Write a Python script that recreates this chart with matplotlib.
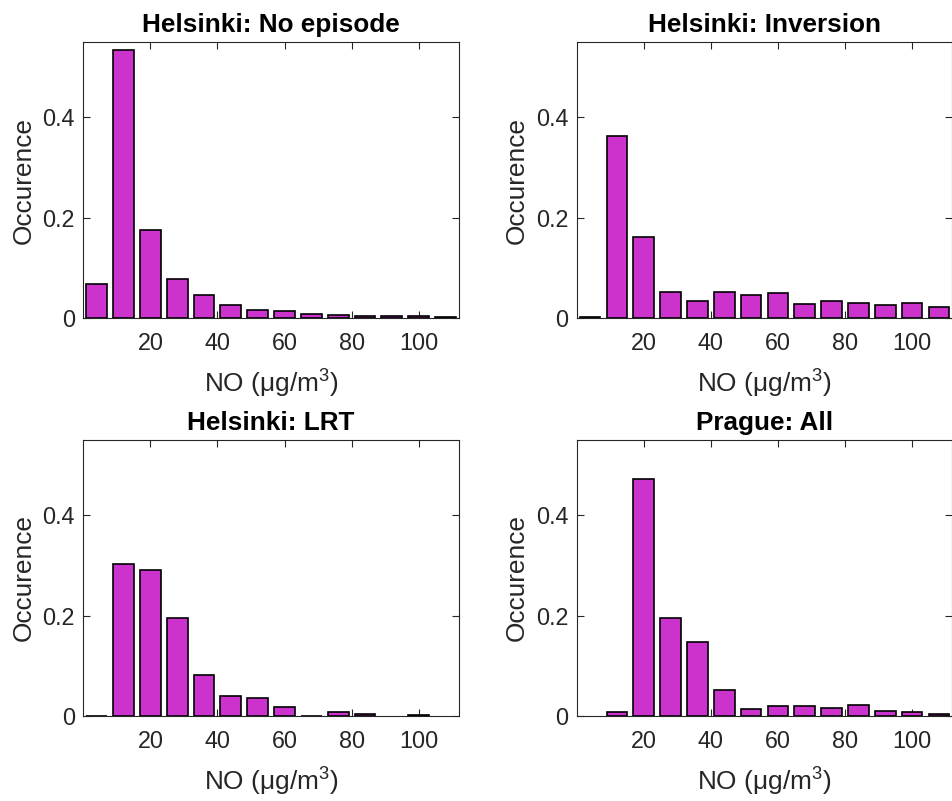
import numpy as np
import matplotlib.pyplot as plt

plt.rcParams['font.family'] = ['Liberation Sans', 'DejaVu Sans']
plt.rcParams['mathtext.fontset'] = 'custom'
plt.rcParams['mathtext.rm'] = 'Liberation Sans'

# NO concentration bins (ug/m3), width 8, centred at 4, 12, ..., 108
bin_centres = np.arange(4, 112, 8)

no_episode = [0.068, 0.535, 0.175, 0.079, 0.047, 0.026, 0.017,
              0.015, 0.009, 0.007, 0.005, 0.005, 0.005, 0.002]
inversion = [0.002, 0.363, 0.161, 0.052, 0.034, 0.052, 0.047,
             0.050, 0.029, 0.034, 0.031, 0.026, 0.031, 0.023]
lrt = [0.001, 0.302, 0.291, 0.196, 0.082, 0.039, 0.036,
       0.018, 0.001, 0.007, 0.005, 0.0, 0.002, 0.0]
prague = [0.0, 0.007, 0.472, 0.196, 0.148, 0.052, 0.013,
          0.019, 0.019, 0.015, 0.021, 0.010, 0.007, 0.005]

titles = ['Helsinki: No episode', 'Helsinki: Inversion',
          'Helsinki: LRT', 'Prague: All']
series = [no_episode, inversion, lrt, prague]

x_ticks = [20, 40, 60, 80, 100]
y_ticks = [0, 0.2, 0.4]
y_tick_labels = ['0', '0.2', '0.4']

fig = plt.figure(figsize=(9.53, 8.01), dpi=100)
lefts = [0.0874, 0.6051]
bottoms = [0.6026, 0.1061]
w, h = 0.3942, 0.3450

axc = '#262626'
for i, (title, vals) in enumerate(zip(titles, series)):
    ax = fig.add_axes([lefts[i % 2], bottoms[i // 2], w, h])
    vals = np.asarray(vals)
    nz = vals > 0  # empty bins get no bar outline
    ax.bar(bin_centres[nz], vals[nz], width=6.2, color='#CC33CC',
           edgecolor='black', linewidth=1.2, zorder=2)
    ax.set_xlim(0, 112)
    ax.set_ylim(0, 0.55)
    ax.set_xticks(x_ticks)
    ax.set_yticks(y_ticks)
    ax.set_yticklabels(y_tick_labels)
    ax.tick_params(direction='in', top=True, right=True, length=5,
                   width=0.8, color=axc, labelcolor=axc, labelsize=16.8)
    ax.tick_params(axis='x', pad=10)
    ax.tick_params(axis='y', pad=6)
    for s in ax.spines.values():
        s.set_color(axc)
        s.set_linewidth(0.8)
    ax.set_title(title, fontsize=18.8, fontweight='bold', pad=7)
    ax.set_xlabel(r'NO ($\mathrm{\mu g/m^3}$)', fontsize=18.9, color=axc,
                  labelpad=9)
    ax.set_ylabel('Occurence', fontsize=18.9, color=axc, labelpad=5)

fig.savefig('out.png', dpi=100)
